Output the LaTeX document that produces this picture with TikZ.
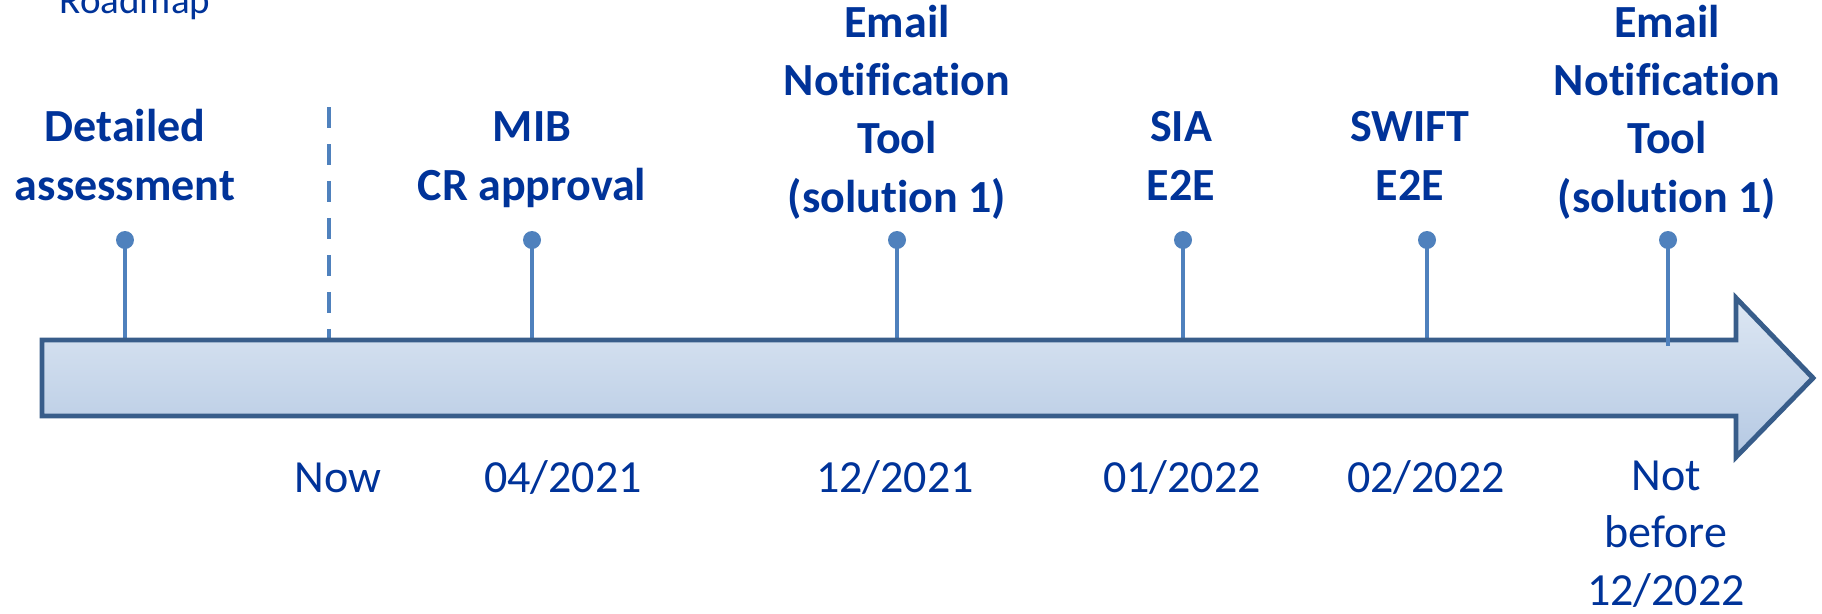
\documentclass[tikz,border=0pt]{standalone}
\usepackage{fontspec}
\setmainfont{Carlito}[Ligatures={TeX,NoCommon}]

\definecolor{labelblue}{RGB}{0,51,153}
\definecolor{stemblue}{RGB}{79,129,189}
\definecolor{arrowedge}{RGB}{56,93,138}
\definecolor{arrowtop}{RGB}{221,231,243}
\definecolor{arrowbot}{RGB}{181,201,227}

\tikzset{
  milestone/.style={font=\fontsize{26.2}{33.2}\selectfont\bfseries, text=labelblue,
    align=center, anchor=base, inner sep=0pt},
  datelabel/.style={font=\fontsize{26.2}{32.6}\selectfont, text=labelblue,
    align=center, anchor=base, inner sep=0pt},
  pinhead/.style={circle, fill=stemblue, inner sep=0pt, minimum size=0.36cm},
  stemline/.style={draw=stemblue, line width=2.7pt},
}

\begin{document}
\begin{tikzpicture}[x=0.02cm, y=-0.02cm]
  \useasboundingbox (0,0) rectangle (1822,613);

  % title, cut by the top edge
  \node[font=\fontsize{22.2}{26}\selectfont, text=labelblue, anchor=base, inner sep=0pt] (roadmap) at (135,13) {Roadmap};

  % pins
  \node[pinhead] (pDetail) at (125,240) {};
  \node[pinhead] (pMib) at (532,240) {};
  \node[pinhead] (pEmailA) at (897,240) {};
  \node[pinhead] (pSia) at (1183,240) {};
  \node[pinhead] (pSwift) at (1427,240) {};
  \node[pinhead] (pEmailB) at (1668,240) {};
  \coordinate (bDetail) at (125,340);
  \coordinate (bMib) at (532,340);
  \coordinate (bEmailA) at (897,340);
  \coordinate (bSia) at (1183,340);
  \coordinate (bSwift) at (1427,340);
  \coordinate (bEmailB) at (1668,346);
  \draw[stemline] (pDetail.center) -- (bDetail);
  \draw[stemline] (pMib.center) -- (bMib);
  \draw[stemline] (pEmailA.center) -- (bEmailA);
  \draw[stemline] (pSia.center) -- (bSia);
  \draw[stemline] (pSwift.center) -- (bSwift);

  % now marker
  \coordinate (nowTop) at (329,107);
  \coordinate (nowBot) at (329,340);
  \draw[stemblue, line width=2.8pt, dash pattern=on 0.42cm off 0.32cm] (nowTop) -- (nowBot);

  % time arrow
  \shadedraw[top color=arrowtop, bottom color=arrowbot, draw=arrowedge, line width=2.8pt]
    (42,340) -- (1736,340) -- (1736,298) -- (1813,378) -- (1736,457) -- (1736,416) -- (42,416) -- cycle;
  \draw[stemline] (pEmailB.center) -- (bEmailB);

  % milestones (base = last line)
  \node[milestone] (tDetail) at (125,200) {Detailed\\assessment};
  \node[milestone] (tMib) at (532,200) {MIB\\CR approval};
  \node[milestone] (tEmailA) at (897,212) {Email\\Notification\\Tool\\(solution 1)};
  \node[milestone] (tSia) at (1181,200) {SIA\\E2E};
  \node[milestone] (tSwift) at (1410,200) {SWIFT\\E2E};
  \node[milestone] (tEmailB) at (1667,212) {Email\\Notification\\Tool\\(solution 1)};

  % dates
  \node[datelabel] (dNow) at (338,492) {Now};
  \node[datelabel] (dMib) at (563,492) {04/2021};
  \node[datelabel] (dEmailA) at (895,492) {12/2021};
  \node[datelabel] (dSia) at (1182,492) {01/2022};
  \node[datelabel] (dSwift) at (1426,492) {02/2022};
  \node[datelabel] (dEmailB) at (1666,605) {Not\\before\\12/2022};
\end{tikzpicture}
\end{document}
